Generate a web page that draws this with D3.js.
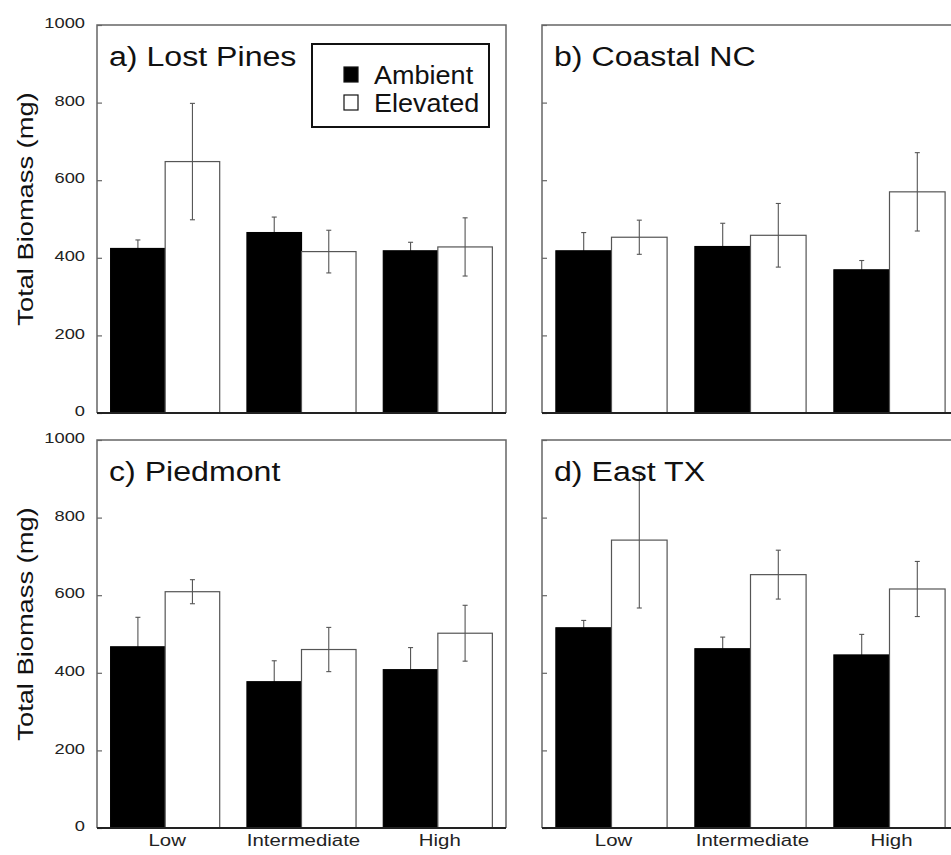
<!DOCTYPE html>
<html>
<head>
<meta charset="utf-8">
<script src="https://cdn.jsdelivr.net/npm/d3@7"></script>
<style>
  body { margin: 0; background: #fff; }
  text { font-family: "Liberation Sans", Arial, Helvetica, sans-serif; }
</style>
</head>
<body>
<svg id="chart" width="951" height="855"></svg>
<script>
// Nitrogen level categories and CO2 treatments
const levels = ["Low", "Intermediate", "High"];
const treatments = ["Ambient", "Elevated"];
const siteTitles = ["a) Lost Pines", "b) Coastal NC", "c) Piedmont", "d) East TX"];

// Mean total biomass (mg) per level, as [ambient, elevated]
const lostPinesMean = [[424, 648], [465, 416], [418, 428]];
const coastalMean   = [[418, 453], [429, 458], [369, 570]];
const piedmontMean  = [[467, 609], [377, 460], [408, 502]];
const eastTxMean    = [[516, 742], [462, 653], [446, 616]];

// Standard errors (mg), same layout
const lostPinesErr = [[22, 150], [40, 55], [22, 75]];
const coastalErr   = [[47, 44], [60, 82], [24, 101]];
const piedmontErr  = [[76, 31], [54, 57], [57, 72]];
const eastTxErr    = [[19, 175], [30, 63], [53, 71]];

const yTicks = [0, 200, 400, 600, 800, 1000];
const yDomain = [0, 1000];
const yLabel = "Total Biomass (mg)";

const means = [lostPinesMean, coastalMean, piedmontMean, eastTxMean];
const errs = [lostPinesErr, coastalErr, piedmontErr, eastTxErr];

const svg = d3.select("#chart");

// Panel frames: left column carries tick labels, bottom row carries level names
const panels = [
  { x0: 97,  x1: 506, y0: 25,  y1: 413, labels: true,  xlab: false, legend: true },
  { x0: 542, x1: 959, y0: 25,  y1: 413, labels: false, xlab: false, legend: false },
  { x0: 97,  x1: 506, y0: 440, y1: 828, labels: true,  xlab: true,  legend: false },
  { x0: 542, x1: 959, y0: 440, y1: 828, labels: false, xlab: true,  legend: false }
];

// Text drawn with a horizontal stretch
function wideText(g, str, x, y, size, stretch, anchor, rotate) {
  return g.append("text")
    .attr("transform", `translate(${x},${y})` + (rotate ? ` rotate(${rotate})` : "") + ` scale(${stretch},1)`)
    .attr("font-size", size)
    .attr("text-anchor", anchor || "start")
    .attr("fill", "#111")
    .text(str);
}

const fillFor = { Ambient: "#000", Elevated: "#fff" };

panels.forEach((p, i) => {
  const g = svg.append("g");
  const x = d3.scaleBand().domain(levels).range([p.x0, p.x1]).paddingInner(0.2).paddingOuter(0.1);
  const xs = d3.scaleBand().domain(treatments).range([0, x.bandwidth()]);
  const y = d3.scaleLinear().domain(yDomain).range([p.y1, p.y0]);

  const rows = [];
  levels.forEach((lv, li) => {
    treatments.forEach((tr, ti) => {
      rows.push({ level: lv, trt: tr, mean: means[i][li][ti], err: errs[i][li][ti] });
    });
  });

  // frame (top and left), right side may run past the edge
  g.append("path")
    .attr("d", `M${p.x0},${p.y1}V${p.y0}H${p.x1}V${p.y1}`)
    .attr("fill", "none").attr("stroke", "#666").attr("stroke-width", 1.5);

  const cx = d => x(d.level) + xs(d.trt) + xs.bandwidth() / 2;

  // error bars; the part inside a solid bar is hidden by the bar itself
  function drawErr(sel) {
    const eb = sel.append("g").attr("stroke", "#555").attr("stroke-width", 1.1);
    eb.append("line")
      .attr("x1", cx).attr("x2", cx)
      .attr("y1", d => y(d.mean - d.err)).attr("y2", d => y(d.mean + d.err));
    eb.append("line")
      .attr("x1", d => cx(d) - 2.5).attr("x2", d => cx(d) + 2.5)
      .attr("y1", d => y(d.mean + d.err)).attr("y2", d => y(d.mean + d.err));
    eb.append("line")
      .attr("x1", d => cx(d) - 2.5).attr("x2", d => cx(d) + 2.5)
      .attr("y1", d => y(d.mean - d.err)).attr("y2", d => y(d.mean - d.err));
  }
  g.selectAll("g.errA").data(rows.filter(d => d.trt === "Ambient")).join("g")
    .attr("class", "errA").call(drawErr);

  // bars
  g.selectAll("rect.bar").data(rows).join("rect")
    .attr("class", "bar")
    .attr("x", d => x(d.level) + xs(d.trt))
    .attr("width", xs.bandwidth())
    .attr("y", d => y(d.mean))
    .attr("height", d => y(0) - y(d.mean))
    .attr("fill", d => fillFor[d.trt])
    .attr("stroke", d => d.trt === "Ambient" ? "#000" : "#555")
    .attr("stroke-width", 1.2);

  g.selectAll("g.errE").data(rows.filter(d => d.trt === "Elevated")).join("g")
    .attr("class", "errE").call(drawErr);

  // left axis with inward ticks
  const yAxis = d3.axisLeft(y).tickValues(yTicks).tickSize(-5).tickFormat("");
  const ax = g.append("g").attr("transform", `translate(${p.x0},0)`).call(yAxis);
  ax.select(".domain").remove();
  ax.selectAll(".tick line").attr("stroke", "#666").attr("stroke-width", 1.2);

  if (p.labels) {
    yTicks.forEach(v => {
      wideText(g, String(v), p.x0 - 12, y(v) - 2, 15, 1.22, "end")
        .attr("dy", "0.35em").attr("fill", "#222");
    });
    wideText(g, yLabel, 33, (p.y0 + p.y1) / 2 - 10, 22, 1.24, "middle", -90);
  }

  // baseline
  g.append("line")
    .attr("x1", p.x0).attr("x2", p.x1).attr("y1", p.y1).attr("y2", p.y1)
    .attr("stroke", "#222").attr("stroke-width", 2);

  // level names under bottom panels
  if (p.xlab) {
    levels.forEach(lv => {
      wideText(g, lv, x(lv) + x.bandwidth() / 2 + 2, p.y1 + 18, 17, 1.2, "middle").attr("fill", "#222");
    });
  }

  // site title
  wideText(g, siteTitles[i], p.x0 + 12, p.y0 + 41, 27, 1.19, "start");

  // legend
  if (p.legend) {
    const lg = g.append("g");
    lg.append("rect").attr("x", 312).attr("y", 44).attr("width", 177).attr("height", 83)
      .attr("fill", "#fff").attr("stroke", "#111").attr("stroke-width", 2);
    treatments.forEach((tr, ti) => {
      const yy = 75 + ti * 28;
      lg.append("rect").attr("x", 344).attr("y", yy - 8).attr("width", 14).attr("height", 15)
        .attr("fill", fillFor[tr]).attr("stroke", "#111").attr("stroke-width", 1.2);
      wideText(lg, tr, 374, yy + 9, 26, 1.04, "start");
    });
  }
});
</script>
</body>
</html>
